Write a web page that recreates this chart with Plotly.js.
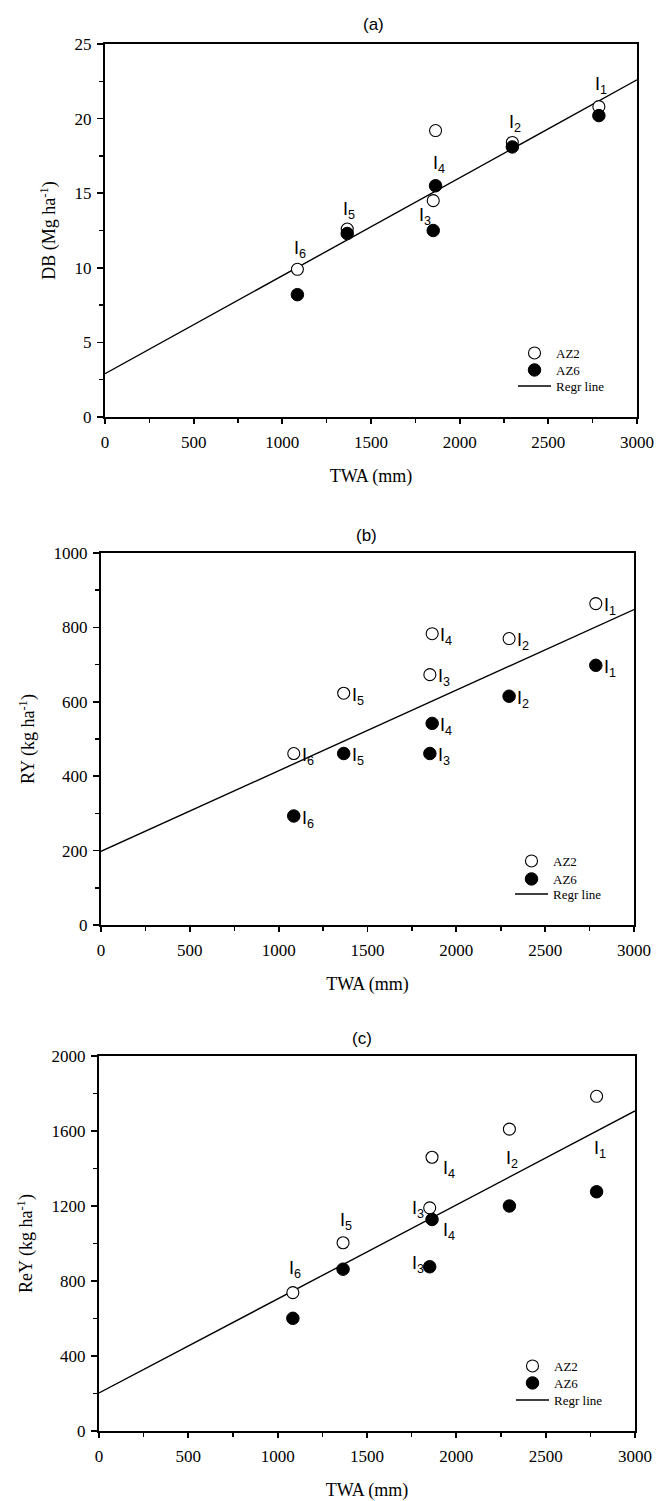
<!DOCTYPE html>
<html>
<head>
<meta charset="utf-8">
<script src="https://cdn.plot.ly/plotly-3.0.1.min.js"></script>
<style>html,body{margin:0;padding:0;background:#fff;}#chart{width:656px;height:1501px;}</style>
</head>
<body>
<div id="chart"></div>
<script>
// ---- data ----
const sites = ["I6", "I5", "I3", "I4", "I2", "I1"];
const twa = [1085, 1366, 1851, 1864, 2297, 2785];

const dbAZ2 = [9.9, 12.6, 14.5, 19.2, 18.4, 20.8];
const dbAZ6 = [8.2, 12.3, 12.5, 15.5, 18.1, 20.2];
const dbRegX = [0, 3000];
const dbRegY = [2.9, 22.6];

const ryAZ2 = [461, 623, 673, 783, 770, 864];
const ryAZ6 = [293, 461, 461, 542, 615, 698];
const ryRegX = [0, 3000];
const ryRegY = [198, 848];

const reyAZ2 = [738, 1004, 1190, 1460, 1610, 1785];
const reyAZ6 = [601, 863, 876, 1128, 1200, 1276];
const reyRegX = [0, 3000];
const reyRegY = [203, 1707];

const xTicks = [0, 500, 1000, 1500, 2000, 2500, 3000];

// site label positions (left edge / vertical centre of the "I")
const labA = [
  {s: "6", x: 1074, y: 11.4},
  {s: "5", x: 1350, y: 14.05},
  {s: "3", x: 1776, y: 13.65},
  {s: "4", x: 1858, y: 17.15},
  {s: "2", x: 2284, y: 19.85},
  {s: "1", x: 2769, y: 22.45}
];
// panel b labels sit just right of each point
const labB = [
  {s: "6", x: 1085, y: 461}, {s: "5", x: 1366, y: 623}, {s: "3", x: 1851, y: 673},
  {s: "4", x: 1864, y: 783}, {s: "2", x: 2297, y: 770}, {s: "1", x: 2785, y: 864},
  {s: "6", x: 1085, y: 293}, {s: "5", x: 1366, y: 461}, {s: "3", x: 1851, y: 461},
  {s: "4", x: 1864, y: 542}, {s: "2", x: 2297, y: 615}, {s: "1", x: 2785, y: 698}
];
const labC = [
  {s: "6", x: 1071, y: 876},
  {s: "5", x: 1357, y: 1134},
  {s: "3", x: 1756, y: 1196},
  {s: "4", x: 1931, y: 1410},
  {s: "4", x: 1931, y: 1081},
  {s: "3", x: 1756, y: 903},
  {s: "2", x: 2284, y: 1463},
  {s: "1", x: 2776, y: 1516}
];

// ---- geometry ----
const W = 656, H = 1501;
function px(a, b) { return [a / W, b / W]; }
function py(top, bottom) { return [1 - bottom / H, 1 - top / H]; }

const serif = "Liberation Serif, Times New Roman, serif";
const sans = "Liberation Sans, Arial, sans-serif";

function xaxis(dom, anchor) {
  return {
    domain: dom, anchor: anchor, range: [0, 3000], tickvals: xTicks,
    ticks: "outside", ticklen: 5, tickwidth: 1.7, tickcolor: "#000",
    ticklabelstandoff: 4,
    minor: {dtick: 250, ticks: "outside", ticklen: 3.5, tickwidth: 1.5, tickcolor: "#000"},
    showline: true, linewidth: 2, linecolor: "#000", mirror: true,
    showgrid: false, zeroline: false,
    tickfont: {family: serif, size: 17, color: "#000"},
    title: {text: "TWA (mm)", font: {family: serif, size: 18, color: "#000"}, standoff: 18}
  };
}
function yaxis(dom, anchor, rng, dt, title) {
  return {
    domain: dom, anchor: anchor, range: rng, dtick: dt, tick0: 0,
    ticks: "outside", ticklen: 6, tickwidth: 1.7, tickcolor: "#000",
    ticklabelstandoff: 2,
    minor: {dtick: dt / 2, ticks: "outside", ticklen: 4, tickwidth: 1.5, tickcolor: "#000"},
    showline: true, linewidth: 2, linecolor: "#000", mirror: true,
    showgrid: false, zeroline: false,
    tickfont: {family: serif, size: 17, color: "#000"},
    title: {text: title, font: {family: serif, size: 18, color: "#000"}, standoff: 14}
  };
}

const openM = {symbol: "circle", size: 12, color: "#fff", line: {color: "#000", width: 1.1}};
const fillM = {symbol: "circle", size: 12.5, color: "#000", line: {color: "#000", width: 1}};

function panel(xa, ya, lgs, az2, az6, rx, ry) {
  return [
    {type: "scatter", mode: "lines", x: rx, y: ry, xaxis: xa, yaxis: ya, legend: lgs[2],
     name: "Regr line", line: {color: "#000", width: 1.4}},
    {type: "scatter", mode: "markers", x: twa, y: az2, xaxis: xa, yaxis: ya, legend: lgs[0],
     name: "AZ2", marker: openM},
    {type: "scatter", mode: "markers", x: twa, y: az6, xaxis: xa, yaxis: ya, legend: lgs[1],
     name: "AZ6", marker: fillM}
  ];
}

const data = [].concat(
  panel("x", "y", ["legend", "legend2", "legend3"], dbAZ2, dbAZ6, dbRegX, dbRegY),
  panel("x2", "y2", ["legend4", "legend5", "legend6"], ryAZ2, ryAZ6, ryRegX, ryRegY),
  panel("x3", "y3", ["legend7", "legend8", "legend9"], reyAZ2, reyAZ6, reyRegX, reyRegY)
);

const labFont = {family: sans, size: 18, color: "#000"};
function lab(xr, yr, o, xshift) {
  return {xref: xr, yref: yr, x: o.x, y: o.y, text: "I<sub>" + o.s + "</sub>",
    showarrow: false, font: labFont, xanchor: "left", yanchor: "middle",
    xshift: xshift, yshift: -3};
}

const annotations = [];
labA.forEach(o => annotations.push(lab("x", "y", o, -3)));
labB.forEach(o => annotations.push(lab("x2", "y2", o, 6)));
labC.forEach(o => annotations.push(lab("x3", "y3", o, -3)));

const dA = {x: px(105, 637), y: py(44, 417)};
const dB = {x: px(101, 634), y: py(553, 925)};
const dC = {x: px(99, 635), y: py(1056, 1431)};

function ptitle(t, cx, cy) {
  return {xref: "paper", yref: "paper", x: cx / W, y: 1 - cy / H,
    text: t, showarrow: false, font: {family: sans, size: 17, color: "#000"},
    xanchor: "center", yanchor: "middle"};
}
annotations.push(ptitle("(a)", 374, 25));
annotations.push(ptitle("(b)", 366, 535));
annotations.push(ptitle("(c)", 362, 1038));

function leg(xpx, ypx) {
  return {x: xpx / W, y: 1 - ypx / H, xanchor: "left", yanchor: "middle",
    bgcolor: "rgba(0,0,0,0)", borderwidth: 0,
    font: {family: serif, size: 13, color: "#000"}, itemwidth: 33};
}

const layout = {
  width: W, height: H,
  margin: {l: 0, r: 0, t: 0, b: 0},
  paper_bgcolor: "#fff", plot_bgcolor: "#fff",
  showlegend: true,
  xaxis: xaxis(dA.x, "y"),
  yaxis: yaxis(dA.y, "x", [0, 25], 5, "DB (Mg ha<sup>-1</sup>)"),
  xaxis2: xaxis(dB.x, "y2"),
  yaxis2: yaxis(dB.y, "x2", [0, 1000], 200, "RY (kg ha<sup>-1</sup>)"),
  xaxis3: xaxis(dC.x, "y3"),
  yaxis3: yaxis(dC.y, "x3", [0, 2000], 400, "ReY (kg ha<sup>-1</sup>)"),
  legend: leg(513, 353), legend2: leg(513, 370), legend3: leg(513, 386),
  legend4: leg(510, 861), legend5: leg(510, 879), legend6: leg(510, 894),
  legend7: leg(511, 1366), legend8: leg(511, 1383), legend9: leg(511, 1400),
  annotations: annotations
};

Plotly.newPlot("chart", data, layout, {staticPlot: true, displayModeBar: false});
</script>
</body>
</html>
